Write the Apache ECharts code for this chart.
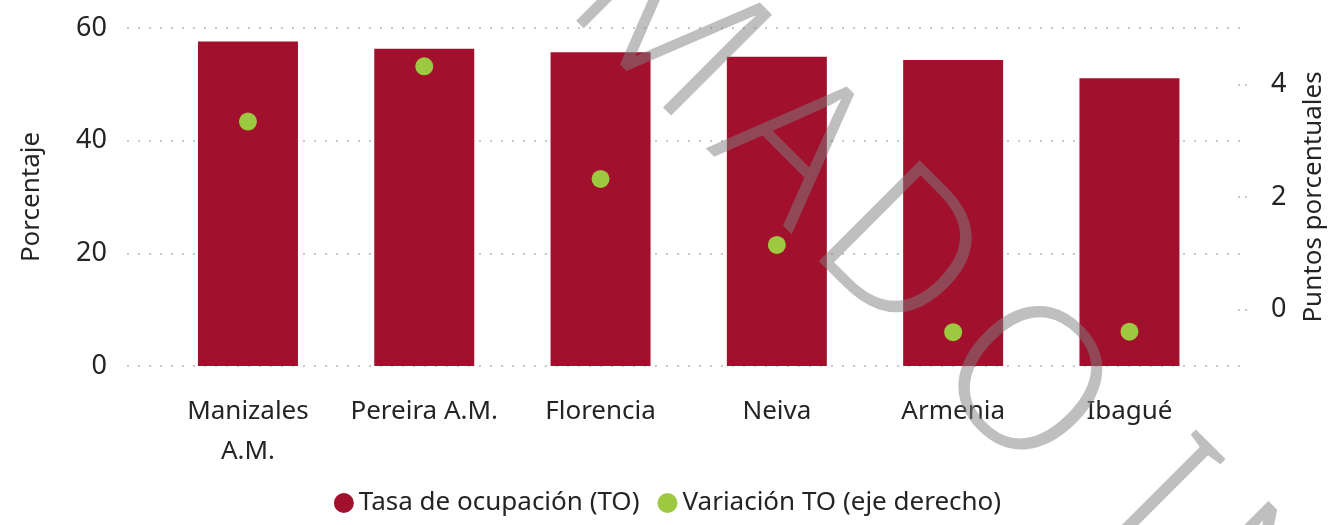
<!DOCTYPE html>
<html>
<head>
<meta charset="utf-8">
<script src="https://cdn.jsdelivr.net/npm/echarts@6/dist/echarts.min.js"></script>
<style>
    html, body { margin: 0; padding: 0; background: #fff; }
    #chart { width: 1335px; height: 525px; }
</style>
</head>
<body>
<div id="chart"></div>
<script>
// datos
const ciudades = ['Manizales\nA.M.', 'Pereira A.M.', 'Florencia', 'Neiva', 'Armenia', 'Ibagué']
const tasaOcupacion = [57.6, 56.3, 55.7, 54.9, 54.3, 51.1]
const variacionTO = [3.34, 4.32, 2.32, 1.15, -0.40, -0.39]
const ticksIzq = [0, 20, 40, 60]
const ticksDer = [0, 2, 4]

const FONT = 'Noto Sans'
const TXT = '#252423'
const ROJO = '#A1102D'
const VERDE = '#9DC940'

// marca de agua (letras sueltas en diagonal)
const marca = [
    { t: 'M', x: 664, y: 28 },
    { t: 'A', x: 789, y: 151 },
    { t: 'D', x: 895, y: 257 },
    { t: 'O', x: 1020, y: 388 },
    { t: 'I', x: 1150, y: 505 },
    { t: 'N', x: 1245, y: 599 }
]

const myChart = echarts.init(document.getElementById('chart'))
myChart.setOption({
    animation: false,
    textStyle: { fontFamily: FONT },
    legend: {
        top: 485,
        left: 'center',
        icon: 'circle',
        itemWidth: 20,
        itemHeight: 20,
        itemGap: 18,
        textStyle: { fontSize: 26, color: TXT, fontFamily: FONT },
        data: ['Tasa de ocupación (TO)', 'Variación TO (eje derecho)']
    },
    grid: [
        { left: 127, right: 80, top: 28, bottom: 159 },
        { left: 159.8, right: 117.4, top: 28, bottom: 159 }
    ],
    xAxis: [
        { gridIndex: 0, type: 'value', show: false },
        {
            gridIndex: 1,
            type: 'category',
            data: ciudades,
            axisLine: { show: false },
            axisTick: { show: false },
            axisLabel: { interval: 0, margin: 26, fontSize: 26, lineHeight: 40, color: TXT, fontFamily: FONT }
        }
    ],
    yAxis: [
        {
            gridIndex: 0,
            type: 'value',
            position: 'left',
            min: ticksIzq[0],
            max: ticksIzq[ticksIzq.length - 1],
            interval: 20,
            name: 'Porcentaje',
            nameLocation: 'middle',
            nameRotate: 90,
            nameGap: 82,
            nameTextStyle: { fontSize: 26, color: TXT, fontFamily: FONT },
            axisLine: { show: false },
            axisTick: { show: false },
            axisLabel: { margin: 20, fontSize: 27, color: TXT, fontFamily: FONT },
            splitLine: { show: true, lineStyle: { color: '#c8c8c8', width: 2, type: [2, 9] } }
        },
        {
            gridIndex: 0,
            type: 'value',
            position: 'right',
            min: -1,
            max: 5,
            name: 'Puntos porcentuales',
            nameLocation: 'middle',
            nameRotate: 90,
            nameGap: 54,
            nameTextStyle: { fontSize: 26, color: TXT, fontFamily: FONT },
            axisLine: { show: false },
            axisTick: {
                show: true,
                inside: true,
                length: 12,
                customValues: ticksDer,
                lineStyle: { color: '#c8c8c8', width: 2, type: [2, 5] }
            },
            axisLabel: { margin: 24, fontSize: 27, color: TXT, fontFamily: FONT, customValues: ticksDer },
            splitLine: { show: false }
        },
        { gridIndex: 1, type: 'value', min: 0, max: 60, show: false },
        { gridIndex: 1, type: 'value', min: -1, max: 5, show: false }
    ],
    series: [
        {
            name: 'Tasa de ocupación (TO)',
            type: 'bar',
            xAxisIndex: 1,
            yAxisIndex: 2,
            barWidth: 100,
            itemStyle: { color: ROJO },
            data: tasaOcupacion
        },
        {
            name: 'Variación TO (eje derecho)',
            type: 'scatter',
            xAxisIndex: 1,
            yAxisIndex: 3,
            symbolSize: 18,
            itemStyle: { color: VERDE, opacity: 1 },
            z: 3,
            data: variacionTO
        }
    ],
    graphic: marca.map(m => ({
        type: 'text',
        x: m.x,
        y: m.y,
        rotation: -Math.PI / 4,
        z: 100,
        silent: true,
        style: {
            text: m.t,
            fontSize: 200,
            fontFamily: FONT,
            fontWeight: 300,
            fill: 'rgba(128,128,128,0.5)',
            align: 'center',
            verticalAlign: 'middle'
        }
    }))
})
</script>
</body>
</html>
